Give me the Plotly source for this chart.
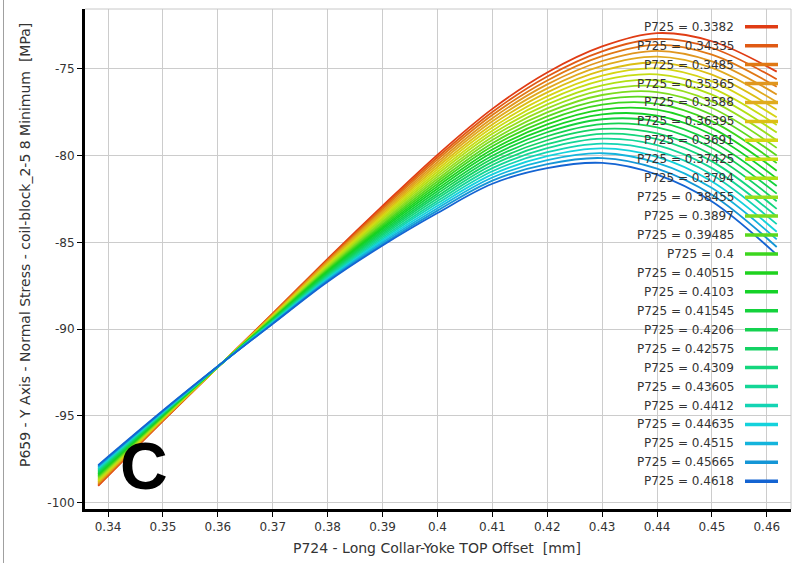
import plotly.graph_objects as go

# ---- data ----
P725 = [0.3382, 0.34335, 0.3485, 0.35365, 0.3588, 0.36395, 0.3691, 0.37425,
        0.3794, 0.38455, 0.3897, 0.39485, 0.4, 0.40515, 0.4103, 0.41545,
        0.4206, 0.42575, 0.4309, 0.43605, 0.4412, 0.44635, 0.4515, 0.45665, 0.4618]

P724 = [0.3382, 0.35, 0.36, 0.37, 0.38, 0.39, 0.40, 0.41, 0.42, 0.43, 0.44, 0.45, 0.4618]

s_03382  = [-99.05, -95.30, -92.20, -89.10, -85.95, -82.90, -79.95, -77.30, -75.20, -73.70, -72.93, -73.40, -75.15]
s_034335 = [-99.00, -95.28, -92.20, -89.13, -86.01, -83.00, -80.09, -77.48, -75.43, -73.98, -73.27, -73.79, -75.59]
s_03485  = [-98.95, -95.25, -92.20, -89.15, -86.06, -83.09, -80.23, -77.66, -75.66, -74.26, -73.61, -74.17, -76.03]
s_035365 = [-98.90, -95.23, -92.19, -89.18, -86.12, -83.19, -80.37, -77.84, -75.89, -74.54, -73.95, -74.56, -76.47]
s_03588  = [-98.85, -95.20, -92.19, -89.20, -86.17, -83.28, -80.51, -78.02, -76.12, -74.82, -74.29, -74.94, -76.91]
s_036395 = [-98.80, -95.18, -92.19, -89.23, -86.23, -83.38, -80.65, -78.20, -76.35, -75.10, -74.63, -75.33, -77.35]
s_03691  = [-98.75, -95.15, -92.19, -89.25, -86.28, -83.47, -80.79, -78.38, -76.58, -75.38, -74.97, -75.71, -77.79]
s_037425 = [-98.70, -95.13, -92.19, -89.28, -86.34, -83.57, -80.93, -78.56, -76.81, -75.66, -75.31, -76.10, -78.23]
s_03794  = [-98.65, -95.10, -92.18, -89.30, -86.39, -83.66, -81.07, -78.74, -77.04, -75.94, -75.65, -76.48, -78.67]
s_038455 = [-98.60, -95.08, -92.18, -89.33, -86.45, -83.76, -81.21, -78.92, -77.27, -76.22, -75.99, -76.87, -79.11]
s_03897  = [-98.55, -95.05, -92.18, -89.35, -86.50, -83.85, -81.35, -79.10, -77.50, -76.50, -76.33, -77.25, -79.55]
s_039485 = [-98.50, -95.03, -92.18, -89.38, -86.56, -83.95, -81.49, -79.28, -77.73, -76.78, -76.67, -77.64, -79.99]
s_04     = [-98.45, -95.00, -92.18, -89.40, -86.61, -84.04, -81.63, -79.46, -77.96, -77.06, -77.01, -78.02, -80.43]
s_040515 = [-98.40, -94.98, -92.17, -89.43, -86.67, -84.14, -81.77, -79.64, -78.19, -77.34, -77.35, -78.41, -80.87]
s_04103  = [-98.35, -94.95, -92.17, -89.45, -86.72, -84.23, -81.91, -79.82, -78.42, -77.62, -77.69, -78.79, -81.31]
s_041545 = [-98.30, -94.93, -92.17, -89.48, -86.78, -84.33, -82.05, -80.00, -78.65, -77.90, -78.03, -79.18, -81.75]
s_04206  = [-98.25, -94.90, -92.17, -89.50, -86.83, -84.42, -82.19, -80.18, -78.88, -78.18, -78.37, -79.56, -82.19]
s_042575 = [-98.20, -94.88, -92.17, -89.53, -86.89, -84.52, -82.33, -80.36, -79.11, -78.46, -78.71, -79.95, -82.63]
s_04309  = [-98.15, -94.85, -92.16, -89.55, -86.94, -84.61, -82.47, -80.54, -79.34, -78.74, -79.05, -80.33, -83.07]
s_043605 = [-98.10, -94.83, -92.16, -89.58, -87.00, -84.71, -82.61, -80.72, -79.57, -79.02, -79.39, -80.72, -83.51]
s_04412  = [-98.05, -94.80, -92.16, -89.60, -87.05, -84.80, -82.75, -80.90, -79.80, -79.30, -79.73, -81.10, -83.95]
s_044635 = [-98.00, -94.78, -92.16, -89.63, -87.11, -84.90, -82.89, -81.08, -80.03, -79.58, -80.07, -81.49, -84.39]
s_04515  = [-97.95, -94.75, -92.16, -89.65, -87.16, -84.99, -83.03, -81.26, -80.26, -79.86, -80.41, -81.87, -84.83]
s_045665 = [-97.90, -94.73, -92.15, -89.68, -87.22, -85.09, -83.17, -81.44, -80.49, -80.14, -80.75, -82.26, -85.27]
s_04618  = [-97.85, -94.70, -92.15, -89.70, -87.27, -85.18, -83.31, -81.62, -80.72, -80.42, -81.09, -82.64, -85.71]

line_colors = ["#e03c14", "#e05a14", "#e07814", "#e0961e", "#e0aa1e", "#dcbe14",
               "#d6d414", "#c6dc14", "#b0e014", "#98de1e", "#7cdc1e", "#5ad81e",
               "#3cd61e", "#1ed21e", "#14d228", "#14d23c", "#14d250", "#14d264",
               "#14d67d", "#14d696", "#14d4b4", "#14d2dc", "#14b4dc", "#1496d6", "#1464d2"]

x_ticks = [0.34, 0.35, 0.36, 0.37, 0.38, 0.39, 0.40, 0.41, 0.42, 0.43, 0.44, 0.45, 0.46]
x_tick_labels = ["0.34", "0.35", "0.36", "0.37", "0.38", "0.39", "0.4", "0.41",
                 "0.42", "0.43", "0.44", "0.45", "0.46"]
y_ticks = [-75, -80, -85, -90, -95, -100]
y_tick_labels = ["-75", "-80", "-85", "-90", "-95", "-100"]

stress = [s_03382, s_034335, s_03485, s_035365, s_03588, s_036395, s_03691, s_037425,
          s_03794, s_038455, s_03897, s_039485, s_04, s_040515, s_04103, s_041545,
          s_04206, s_042575, s_04309, s_043605, s_04412, s_044635, s_04515, s_045665, s_04618]

# ---- layout geometry (pixels) ----
W, H = 798, 563
L, R, T, B = 85, 7, 9, 54
PW, PH = W - L - R, H - T - B

def px(xpix):
    return (xpix - L) / PW

def py(ypix):
    return 1 - (ypix - T) / PH

FONT = "DejaVu Sans"
TXT = "#333333"

fig = go.Figure()
for p, ys, c in zip(P725, stress, line_colors):
    fig.add_trace(go.Scatter(
        x=P724, y=ys, mode="lines", name=f"P725 = {p}",
        line=dict(color=c, width=1.8, shape="spline", smoothing=1.0),
        showlegend=False, hoverinfo="skip"))

annotations = []
shapes = []

# manual legend: right-aligned text, swatch on the right
leg_y0, leg_dy = 26.7, 18.94
for i, (p, c) in enumerate(zip(P725, line_colors)):
    yy = leg_y0 + i * leg_dy
    annotations.append(dict(
        xref="paper", yref="paper", x=px(736), y=py(yy), xanchor="right", yanchor="middle",
        text=f"P725 = {p}", showarrow=False, font=dict(family=FONT, size=12, color=TXT)))
    shapes.append(dict(
        type="line", xref="paper", yref="paper", x0=px(745), x1=px(778),
        y0=py(yy), y1=py(yy), line=dict(color=c, width=3.5)))

# axis titles
annotations.append(dict(
    xref="paper", yref="paper", x=px(437), y=py(548), xanchor="center", yanchor="middle",
    text="P724 - Long Collar-Yoke TOP Offset \u00a0[mm]", showarrow=False,
    font=dict(family=FONT, size=14, color=TXT)))
annotations.append(dict(
    xref="paper", yref="paper", x=px(25), y=py(245), xanchor="center", yanchor="middle",
    text="P659 - Y Axis - Normal Stress - coil-block_2-5 8 Minimum \u00a0[MPa]", showarrow=False,
    textangle=-90, font=dict(family=FONT, size=14, color=TXT)))

# big panel letter
annotations.append(dict(
    xref="paper", yref="paper", x=px(144), y=py(466), xanchor="center", yanchor="middle",
    text="<b>C</b>", showarrow=False,
    font=dict(family="Liberation Sans", size=66, color="#000000")))

# gray top/right frame
shapes.append(dict(type="line", xref="paper", yref="paper", x0=0, x1=1, y0=1, y1=1,
                   line=dict(color="#c8c8c8", width=1)))
shapes.append(dict(type="line", xref="paper", yref="paper", x0=1, x1=1, y0=0, y1=1,
                   line=dict(color="#c8c8c8", width=1)))
# outer window border on the far left
shapes.append(dict(type="line", xref="paper", yref="paper", x0=px(3.5), x1=px(3.5),
                   y0=py(0), y1=py(H), line=dict(color="#a0a0a0", width=1)))

fig.update_layout(
    width=W, height=H, margin=dict(l=L, r=R, t=T, b=B),
    paper_bgcolor="white", plot_bgcolor="white",
    font=dict(family=FONT, size=12, color=TXT),
    annotations=annotations, shapes=shapes, showlegend=False,
    xaxis=dict(range=[0.3358, 0.4644], tickmode="array", tickvals=x_ticks, ticktext=x_tick_labels,
               showgrid=True, gridcolor="#cccccc", gridwidth=1, zeroline=False,
               showline=True, linecolor="black", linewidth=3,
               ticks="outside", ticklen=5, tickcolor="black", tickwidth=1,
               tickfont=dict(family=FONT, size=12, color=TXT)),
    yaxis=dict(range=[-100.38, -71.54], tickmode="array", tickvals=y_ticks, ticktext=y_tick_labels,
               showgrid=True, gridcolor="#cccccc", gridwidth=1, zeroline=False,
               showline=True, linecolor="black", linewidth=3,
               ticks="outside", ticklen=5, tickcolor="black", tickwidth=1,
               tickfont=dict(family=FONT, size=12, color=TXT)),
)

fig.write_html("out.html")
